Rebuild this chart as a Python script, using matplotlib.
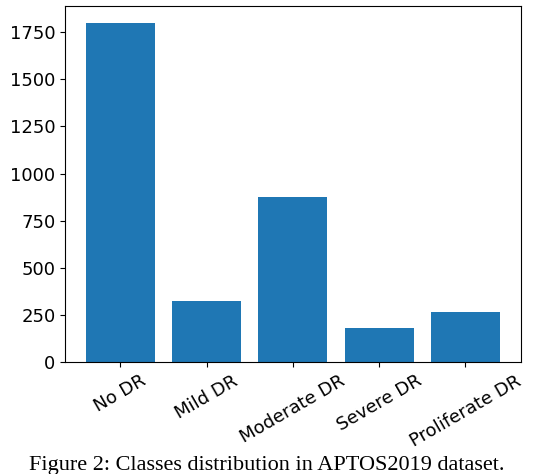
import matplotlib

matplotlib.use("Agg")
import matplotlib.pyplot as plt

classes = ["No DR", "Mild DR", "Moderate DR", "Severe DR", "Proliferate DR"]
counts = [1800, 325, 875, 180, 265]

fig = plt.figure(figsize=(5.34, 4.74), dpi=100)
ax = fig.add_axes([0.122, 0.236, 0.853, 0.752])
ax.bar(classes, counts, color="#1f77b4")
ax.set_yticks([0, 250, 500, 750, 1000, 1250, 1500, 1750])
ax.tick_params(labelsize=13)
plt.setp(ax.get_xticklabels(), rotation=30, ha="center")
fig.text(0.5, 0.018, "Figure 2: Classes distribution in APTOS2019 dataset.",
         ha="center", va="center", family="Liberation Serif", fontsize=16)
fig.savefig("out.png", dpi=100)
